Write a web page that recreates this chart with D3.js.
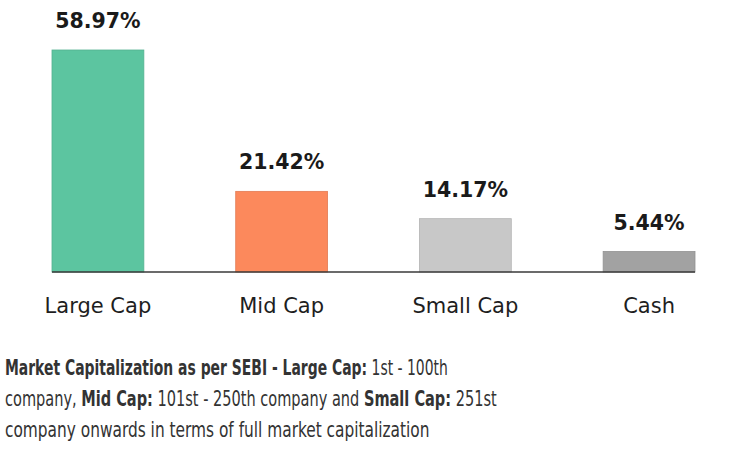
<!DOCTYPE html>
<html>
<head>
<meta charset="utf-8">
<script src="https://cdn.jsdelivr.net/npm/d3@7"></script>
<style>
  html, body { margin: 0; padding: 0; background: #fff; }
  svg { display: block; }
</style>
</head>
<body>
<div id="chart"></div>
<script>
const categories = ["Large Cap", "Mid Cap", "Small Cap", "Cash"];
const values = [58.97, 21.42, 14.17, 5.44];
const barColors = ["#5cc5a0", "#fc895c", "#c8c8c8", "#a2a2a2"];
const captionLines = [
  [["Market Capitalization as per SEBI - Large Cap:", true], [" 1st - 100th", false]],
  [["company, ", false], ["Mid Cap:", true], [" 101st - 250th company and ", false], ["Small Cap:", true], [" 251st", false]],
  [["company onwards in terms of full market capitalization", false]]
];
// right edge of each caption line in the reference
const captionWidths = [443, 492, 425];

const W = 744, H = 454;
const FONT = "'DejaVu Sans', sans-serif";

const svg = d3.select("#chart").append("svg")
  .attr("width", W).attr("height", H)
  .attr("viewBox", `0 0 ${W} ${H}`);

const x = d3.scaleBand().domain(categories).range([52, 695])
  .paddingInner(0.5).paddingOuter(0);
const y = d3.scaleLinear().domain([0, 58.97]).range([272, 50]);

// Bars
svg.append("g").selectAll("rect")
  .data(values).enter().append("rect")
  .attr("x", (d, i) => x(categories[i]))
  .attr("y", d => y(d))
  .attr("width", x.bandwidth())
  .attr("height", d => y(0) - y(d))
  .attr("fill", (d, i) => barColors[i])
  .attr("stroke", (d, i) => d3.color(barColors[i]).darker(0.3))
  .attr("stroke-width", 0.8);

// Baseline
svg.append("line")
  .attr("x1", 52).attr("x2", 695)
  .attr("y1", y(0)).attr("y2", y(0))
  .attr("stroke", "#3a3a3a").attr("stroke-width", 1.6);

// Value labels
svg.append("g").selectAll("text")
  .data(values).enter().append("text")
  .attr("x", (d, i) => x(categories[i]) + x.bandwidth() / 2)
  .attr("y", d => y(d) - 22)
  .attr("text-anchor", "middle")
  .style("font-family", FONT)
  .style("font-weight", "bold")
  .style("font-size", "20.5px")
  .style("fill", "#1a1a1a")
  .text(d => d.toFixed(2) + "%");

// Category labels
svg.append("g").selectAll("text")
  .data(categories).enter().append("text")
  .attr("x", d => x(d) + x.bandwidth() / 2)
  .attr("y", 313)
  .attr("text-anchor", "middle")
  .style("font-family", FONT)
  .style("font-size", "21px")
  .style("fill", "#1e1e1e")
  .text(d => d);

// Caption (condensed to the reference line widths)
const cap = svg.append("g");
captionLines.forEach((line, li) => {
  const g = cap.append("g").attr("transform", `translate(5,${375 + li * 31})`);
  const t = g.append("text")
    .style("font-family", FONT)
    .style("font-stretch", "condensed")
    .style("font-size", "22px")
    .style("fill", "#333");
  line.forEach(([s, b]) => {
    t.append("tspan")
      .style("font-weight", b ? "bold" : "normal")
      .text(s);
  });
  const w = t.node().getComputedTextLength();
  t.attr("transform", `scale(${captionWidths[li] / w},1)`);
});
</script>
</body>
</html>
